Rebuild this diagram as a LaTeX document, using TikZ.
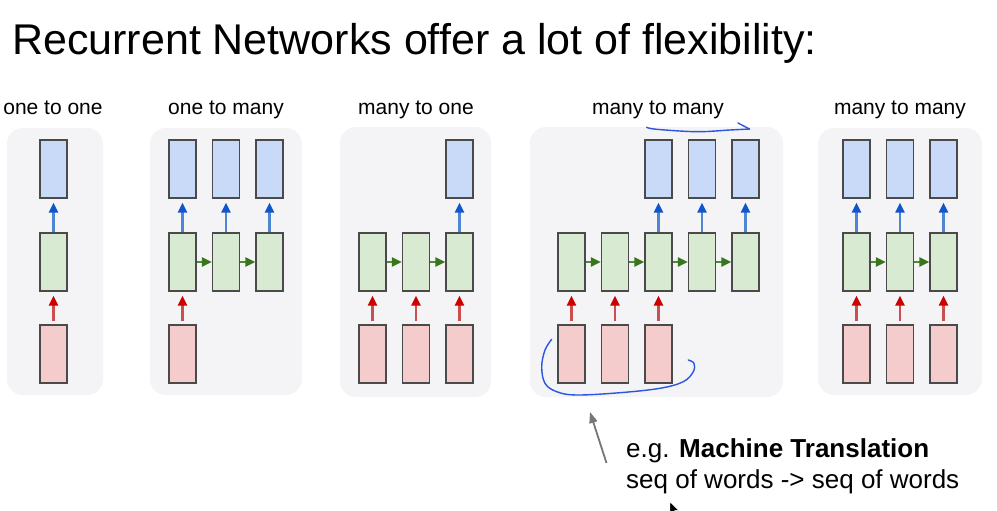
\documentclass[tikz,border=0pt]{standalone}
\usepackage{fontspec}
\setmainfont{Liberation Sans}
\usetikzlibrary{arrows.meta}

\definecolor{panelbg}{HTML}{F4F3F6}
\definecolor{outfill}{HTML}{C9DAF8}
\definecolor{hidfill}{HTML}{D9EAD3}
\definecolor{infill}{HTML}{F4CCCC}
\definecolor{cellborder}{HTML}{4A4A4A}
\definecolor{bluetip}{HTML}{1155CC}
\definecolor{blueline}{HTML}{4F86D4}
\definecolor{redtip}{HTML}{CC0000}
\definecolor{redline}{HTML}{CC4F4F}
\definecolor{greentip}{HTML}{38761D}
\definecolor{greenline}{HTML}{4E8A38}
\definecolor{penblue}{HTML}{2A56E0}
\definecolor{pointer}{HTML}{777777}

\tikzset{
  panel/.style={fill=panelbg, draw=none, rounded corners=16pt},
  cell/.style={draw=cellborder, line width=1.3pt, minimum width=27pt,
    minimum height=58pt, inner sep=0pt},
  outcell/.style={cell, fill=outfill},
  hidcell/.style={cell, fill=hidfill},
  incell/.style={cell, fill=infill},
  toout/.style={draw=blueline, line width=2.3pt, shorten >=4pt,
    -{Triangle[length=10pt,width=9pt,color=bluetip]}},
  fromin/.style={draw=redline, line width=2.3pt, shorten <=3pt, shorten >=4pt,
    -{Triangle[length=10pt,width=9pt,color=redtip]}},
  recur/.style={draw=greenline, line width=2.3pt,
    -{Triangle[length=10pt,width=9pt,color=greentip]}},
  caption/.style={anchor=base, inner sep=0pt, font=\fontsize{21}{24}\selectfont},
  pen/.style={draw=penblue, line width=1.4pt, line cap=round, line join=round},
}

\begin{document}
\begin{tikzpicture}[x=1pt, y=-1pt]
\useasboundingbox[fill=white] (0,0) rectangle (997,511);

% heading
\node[anchor=base west, inner sep=0pt, font=\fontsize{43}{50}\selectfont]
  (heading) at (12,55) {Recurrent Networks offer a lot of flexibility:};

% panel backgrounds
\fill[panel] (7,128) rectangle (103,395);
\fill[panel] (150,128) rectangle (302,395);
\fill[panel] (340,127) rectangle (491,397);
\fill[panel] (530,127) rectangle (783,397);
\fill[panel] (818,128) rectangle (982,395);

% captions
\node[caption] (cap1) at (53,114.5) {one to one};
\node[caption] (cap2) at (226,114.5) {one to many};
\node[caption] (cap3) at (416,114.5) {many to one};
\node[caption] (cap4) at (658,114.5) {many to many};
\node[caption] (cap5) at (900,114.5) {many to many};

% one to one
\node[outcell] (a_o1) at (53.5,169) {};
\node[hidcell] (a_h1) at (53.5,262) {};
\node[incell]  (a_i1) at (53.5,354) {};
\draw[toout] (a_h1.north) -- (a_o1.south);
\draw[fromin] (a_i1.north) -- (a_h1.south);

% one to many
\foreach \k/\x in {1/182.5, 2/226, 3/269.5}{
  \node[outcell] (b_o\k) at (\x,169) {};
  \node[hidcell] (b_h\k) at (\x,262) {};
  \draw[toout] (b_h\k.north) -- (b_o\k.south);
}
\node[incell] (b_i1) at (182.5,354) {};
\draw[fromin] (b_i1.north) -- (b_h1.south);
\draw[recur] (b_h1.east) -- (b_h2.west);
\draw[recur] (b_h2.east) -- (b_h3.west);

% many to one
\foreach \k/\x in {1/372.5, 2/416, 3/459.5}{
  \node[hidcell] (c_h\k) at (\x,262) {};
  \node[incell]  (c_i\k) at (\x,354) {};
  \draw[fromin] (c_i\k.north) -- (c_h\k.south);
}
\node[outcell] (c_o3) at (459.5,169) {};
\draw[toout] (c_h3.north) -- (c_o3.south);
\draw[recur] (c_h1.east) -- (c_h2.west);
\draw[recur] (c_h2.east) -- (c_h3.west);

% many to many (encoder / decoder)
\foreach \k/\x in {1/571.5, 2/615, 3/658.5, 4/702, 5/745.5}{
  \node[hidcell] (d_h\k) at (\x,262) {};
}
\foreach \k/\x in {1/571.5, 2/615, 3/658.5}{
  \node[incell] (d_i\k) at (\x,354) {};
  \draw[fromin] (d_i\k.north) -- (d_h\k.south);
}
\foreach \k/\x in {3/658.5, 4/702, 5/745.5}{
  \node[outcell] (d_o\k) at (\x,169) {};
  \draw[toout] (d_h\k.north) -- (d_o\k.south);
}
\foreach \a/\b in {1/2, 2/3, 3/4, 4/5}{
  \draw[recur] (d_h\a.east) -- (d_h\b.west);
}

% many to many (synced)
\foreach \k/\x in {1/856.5, 2/900, 3/943.5}{
  \node[outcell] (e_o\k) at (\x,169) {};
  \node[hidcell] (e_h\k) at (\x,262) {};
  \node[incell]  (e_i\k) at (\x,354) {};
  \draw[toout] (e_h\k.north) -- (e_o\k.south);
  \draw[fromin] (e_i\k.north) -- (e_h\k.south);
}
\draw[recur] (e_h1.east) -- (e_h2.west);
\draw[recur] (e_h2.east) -- (e_h3.west);

% pen marks: bracket round the input words, stroke over the outputs
\draw[pen] plot[smooth, tension=0.6] coordinates {
  (551.7,339.3) (545,350) (541.7,366.7) (545,383.3) (556.7,391.7)
  (576.7,395) (620,392.7) (660,388.3) (683.3,381.7) (693.3,371.7)
  (694,363.3) (688.3,360)};
\draw[pen] plot[smooth, tension=0.6] coordinates {
  (646.7,127.3) (656.7,129.3) (696.7,131.7) (730,130) (749.5,129)};
\draw[pen] (738,123) -- (749.5,129);

% example note
\node[anchor=base west, inner sep=0pt, font=\fontsize{26}{31}\selectfont]
  (note1) at (626,457.5) {e.g. \textbf{Machine Translation}};
\node[anchor=base west, inner sep=0pt, font=\fontsize{26}{31}\selectfont]
  (note2) at (626,488.5) {seq of words -> seq of words};

\coordinate (ptail) at (606.5,463);
\coordinate (phead) at (590,412);
\draw[draw=pointer, line width=1.8pt,
  -{Triangle[length=11pt,width=8pt,color=pointer]}] (ptail) -- (phead);

% mouse cursor
\fill[black, draw=white, line width=0.4pt]
  (670,502) -- (670,514) -- (672.8,511.3) -- (675,516) -- (677,515)
  -- (674.8,510.4) -- (678.6,510.4) -- cycle;
\end{tikzpicture}
\end{document}
